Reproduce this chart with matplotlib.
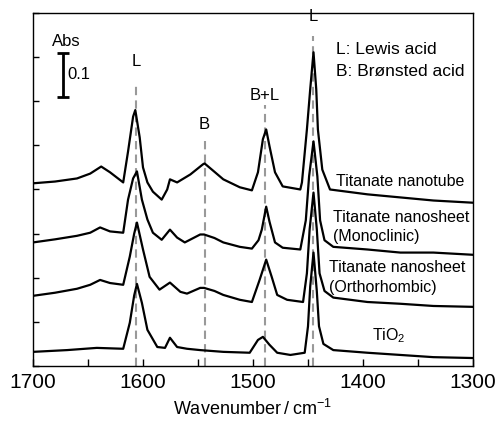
import matplotlib
matplotlib.use("Agg")
import matplotlib.pyplot as plt
import numpy as np

plt.rcParams['font.family'] = ['Liberation Sans', 'DejaVu Sans']
plt.rcParams['mathtext.fontset'] = 'custom'
plt.rcParams['mathtext.rm'] = 'Liberation Sans'
plt.rcParams['mathtext.default'] = 'regular'

# spectra: (wavenumber, absorbance)
wn_tube = [1700, 1680, 1660, 1648, 1638, 1630, 1618, 1613.6, 1609, 1607, 1603, 1600, 1596, 1591,
           1583, 1578, 1575.5, 1569, 1557, 1545.5, 1544, 1535, 1527, 1512, 1501, 1495.5, 1491,
           1488, 1485, 1480, 1473, 1457, 1455.5, 1451, 1448, 1445, 1442.5, 1441, 1437, 1430,
           1396, 1366, 1336, 1300]
abs_tube = [0.414, 0.418, 0.425, 0.436, 0.452, 0.439, 0.416, 0.486, 0.565, 0.580, 0.518, 0.450,
            0.416, 0.395, 0.377, 0.400, 0.423, 0.416, 0.434, 0.457, 0.459, 0.440, 0.423, 0.405,
            0.398, 0.439, 0.514, 0.536, 0.498, 0.439, 0.407, 0.400, 0.416, 0.536, 0.627, 0.711,
            0.627, 0.536, 0.445, 0.400, 0.389, 0.382, 0.375, 0.370]

wn_mono = [1700, 1680, 1660, 1648, 1639, 1630, 1618, 1613.6, 1609, 1605.5, 1601, 1596, 1591, 1583,
           1575.5, 1569, 1562, 1548, 1544.5, 1535, 1527, 1512, 1501, 1495, 1492, 1488, 1485, 1480,
           1473, 1457, 1452, 1449, 1445, 1441.5, 1439, 1435, 1427, 1396, 1366, 1336, 1300]
abs_mono = [0.280, 0.287, 0.295, 0.302, 0.314, 0.305, 0.302, 0.377, 0.425, 0.441, 0.377, 0.332,
            0.302, 0.286, 0.309, 0.291, 0.280, 0.298, 0.298, 0.290, 0.280, 0.270, 0.266, 0.285,
            0.309, 0.361, 0.327, 0.280, 0.268, 0.264, 0.33, 0.43, 0.509, 0.43, 0.33, 0.285,
            0.270, 0.264, 0.257, 0.257, 0.252]

wn_ortho = [1700, 1680, 1660, 1648, 1639, 1630, 1618, 1612, 1608, 1605.5, 1600, 1594, 1585, 1575.5,
            1566, 1560, 1548, 1544.5, 1535, 1527, 1512, 1501, 1494, 1488, 1483, 1478, 1469, 1454.5,
            1451, 1448.5, 1445, 1442, 1439.5, 1435, 1427, 1396, 1366, 1336, 1300]
abs_ortho = [0.159, 0.166, 0.175, 0.184, 0.195, 0.188, 0.184, 0.248, 0.300, 0.325, 0.264, 0.202,
             0.173, 0.189, 0.168, 0.164, 0.177, 0.177, 0.170, 0.161, 0.150, 0.145, 0.195, 0.241,
             0.202, 0.161, 0.150, 0.145, 0.21, 0.31, 0.393, 0.31, 0.21, 0.17, 0.155, 0.145,
             0.141, 0.136, 0.134]

wn_tio2 = [1700, 1669, 1642, 1618, 1612, 1608, 1605.5, 1601, 1596, 1587, 1580, 1575.5, 1569, 1560,
           1548, 1527, 1503, 1495.5, 1491, 1485, 1478, 1466, 1453, 1450, 1448, 1445, 1442, 1440,
           1436, 1427, 1396, 1366, 1336, 1300]
abs_tio2 = [0.032, 0.036, 0.041, 0.039, 0.098, 0.160, 0.186, 0.143, 0.082, 0.043, 0.041, 0.064,
            0.043, 0.039, 0.036, 0.032, 0.030, 0.059, 0.066, 0.048, 0.030, 0.025, 0.030, 0.09,
            0.18, 0.257, 0.17, 0.09, 0.05, 0.036, 0.030, 0.025, 0.020, 0.018]

# band positions and labels
band_wn = [1606, 1544, 1489, 1445]
band_lab = ["L", "B", "B+L", "L"]
band_top = [0.643, 0.511, 0.591, 0.748]
band_lab_y = [0.689, 0.548, 0.614, 0.791]

fig = plt.figure(figsize=(5, 4.23), dpi=100)
ax = fig.add_axes([0.066, 0.1348, 0.88, 0.8345])

for w, t in zip(band_wn, band_top):
    ax.plot([w, w], [0, t], color="#999999", lw=1.5, dashes=(4, 2.5), zorder=1)
for w, lab, y in zip(band_wn, band_lab, band_lab_y):
    ax.text(w, y, lab, ha="center", va="center", fontsize=12)

for wn, ab in [(wn_tube, abs_tube), (wn_mono, abs_mono), (wn_ortho, abs_ortho), (wn_tio2, abs_tio2)]:
    ax.plot(wn, ab, color="k", lw=1.6, zorder=2)

# scale bar
ax.errorbar([1673], [0.66], yerr=[0.05], color="k", lw=2, capsize=4.5, capthick=2)
ax.text(1670, 0.736, "Abs", ha="center", va="center", fontsize=12)
ax.text(1669, 0.661, "0.1", ha="left", va="center", fontsize=12)

ax.text(1424.5, 0.718, "L: Lewis acid", ha="left", va="center", fontsize=12.5)
ax.text(1424.5, 0.668, "B: Brønsted acid", ha="left", va="center", fontsize=12.5)
ax.text(1424.5, 0.418, "Titanate nanotube", ha="left", va="center", fontsize=11.5)
ax.text(1427, 0.336, "Titanate nanosheet", ha="left", va="center", fontsize=11.5)
ax.text(1427, 0.293, "(Monoclinic)", ha="left", va="center", fontsize=11.5)
ax.text(1431, 0.223, "Titanate nanosheet", ha="left", va="center", fontsize=11.5)
ax.text(1431, 0.177, "(Orthorhombic)", ha="left", va="center", fontsize=11.5)
ax.text(1377, 0.068, "TiO$_2$", ha="center", va="center", fontsize=11.5)

ax.set_xlim(1700, 1300)
ax.set_ylim(0, 0.8)
ax.set_xticks([1700, 1600, 1500, 1400, 1300])
ax.set_xticks([1650, 1550, 1450, 1350], minor=True)
ax.set_yticks(np.arange(0, 0.81, 0.1))
ax.set_yticklabels([])
ax.tick_params(axis="x", which="both", direction="in", length=5, width=1, labelsize=15, pad=5)
ax.tick_params(axis="y", direction="in", length=4, width=1)
for s in ax.spines.values():
    s.set_linewidth(1)
ax.set_xlabel("Wavenumber\u2009/\u2009cm$^{-1}$", fontsize=13, labelpad=5)

plt.savefig("out.png", dpi=100)
